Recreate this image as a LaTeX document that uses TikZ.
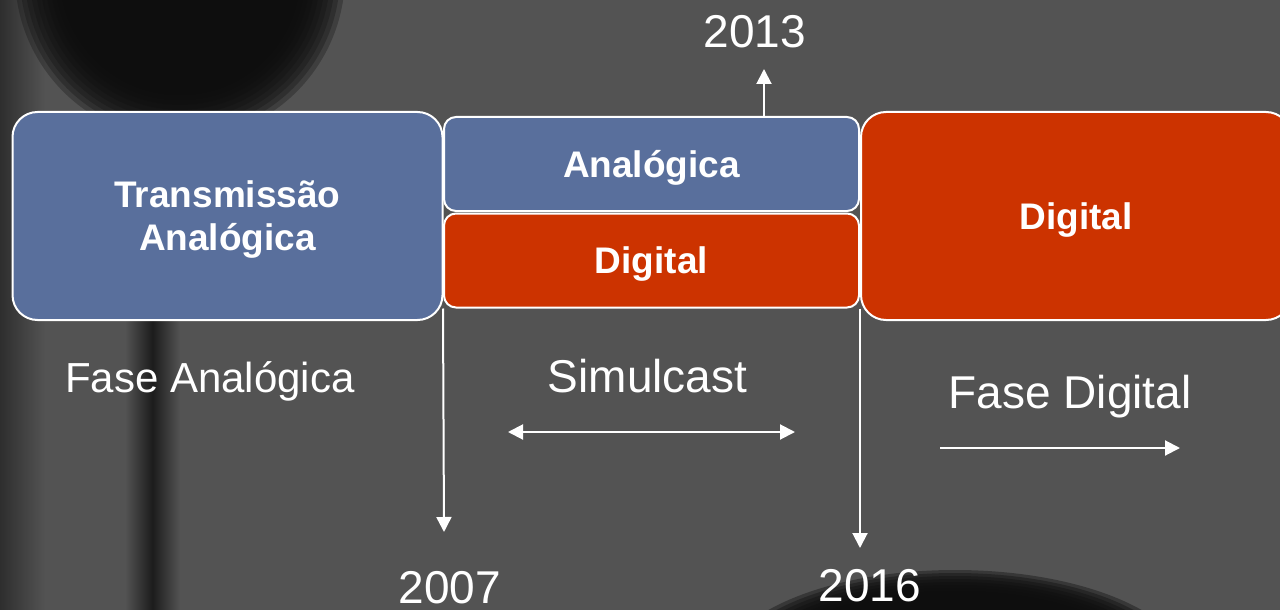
\documentclass[tikz,border=0pt]{standalone}
\usepackage{fontspec}
\setmainfont{Liberation Sans}
\usetikzlibrary{arrows.meta,positioning}
\definecolor{bgc}{HTML}{535353}
\definecolor{blobc}{HTML}{0E0E0E}
\definecolor{stripec}{HTML}{1C1C1C}
\definecolor{edgec}{HTML}{2E2E2E}
\definecolor{azul}{HTML}{596F9C}
\definecolor{verm}{HTML}{CC3300}

\begin{document}
\begin{tikzpicture}[x=0.5pt,y=-0.5pt,>={Triangle[width=7.5pt,length=7.5pt]},
  box/.style={draw=white,line width=1pt,text=white,align=center,inner sep=0pt,
    font=\bfseries\fontsize{18.5}{21.5}\selectfont},
  fase/.style={box,rounded corners=12.5pt,minimum width=215pt,minimum height=104pt,text depth=0pt},
  faixa/.style={box,rounded corners=6pt,minimum width=207.5pt,minimum height=47pt,
    text height=13.2pt,text depth=0pt},
  rotulo/.style={text=white,anchor=base,inner sep=0pt,font=\fontsize{23}{27}\selectfont},
  seta/.style={draw=white,line width=1pt,->}]
  \useasboundingbox (0,0) rectangle (1280,610);
  \clip (0,0) rectangle (1280,610);
  % fundo
  \fill[bgc] (0,0) rectangle (1280,610);
  \shade[left color=edgec,right color=bgc] (0,0) rectangle (45,610);
  \foreach \k in {0,...,9}
    \fill[blobc,opacity=0.3] (180,-25) circle [radius=165-5*\k];
  \shade[left color=bgc,right color=bgc,middle color=stripec] (125,300) rectangle (180,610);
  \foreach \k in {0,...,9}
    \fill[blobc,opacity=0.4] (955,672) ellipse [x radius=235-6*\k,y radius=102-3*\k];
  % fases
  \node[fase,fill=azul] (analog) at (227.5,216) {Transmissão\\Analógica};
  \node[faixa,fill=azul] (ana) at (651.5,164) {Analógica};
  \node[faixa,fill=verm] (dig) at (651.5,260.5) {Digital};
  \node[fase,fill=verm,text height=13.2pt] (digital) at (1076,216) {Digital};
  % rotulos
  \node[rotulo,font=\fontsize{21}{25}\selectfont] (fasea) at (210,392) {Fase Analógica};
  \node[rotulo] (simul) at (647.5,392) {Simulcast};
  \node[rotulo] (fased) at (1070,408) {Fase Digital};
  \node[rotulo] (a13) at (755,48) {2013};
  \node[rotulo] (a07) at (450,603) {2007};
  \node[rotulo] (a16) at (870,601) {2016};
  % setas
  \coordinate (t13) at (764,69);
  \coordinate (t07) at (444,532);
  \coordinate (t16) at (860,548);
  \coordinate (s1) at (508,432);
  \coordinate (s2) at (795,432);
  \coordinate (d1) at (940,448);
  \coordinate (d2) at (1180,448);
  \draw[seta] (ana.north -| t13) -- (t13);
  \draw[seta] (dig.south west) -- (t07);
  \draw[seta] (dig.south east) -- (t16);
  \draw[seta,<->] (s1) -- (s2);
  \draw[seta] (d1) -- (d2);
\end{tikzpicture}
\end{document}
